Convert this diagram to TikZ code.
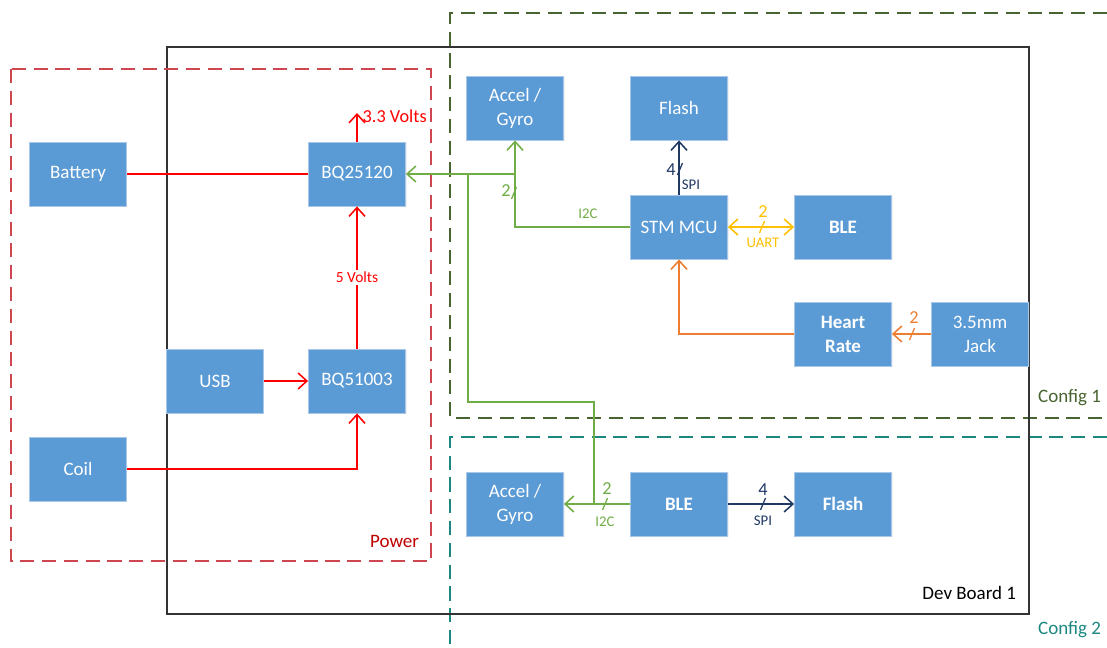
\documentclass[tikz,border=0pt]{standalone}
\usepackage{fontspec}
\setmainfont{Carlito}
\usetikzlibrary{arrows.meta,calc,positioning,shadows}

\definecolor{boxblue}{RGB}{91,155,213}
\definecolor{boxedge}{RGB}{170,198,232}
\definecolor{pwrred}{RGB}{255,0,0}
\definecolor{darkred}{RGB}{192,0,0}
\definecolor{frred}{RGB}{205,70,80}
\definecolor{busgreen}{RGB}{112,173,71}
\definecolor{spinavy}{RGB}{32,56,100}
\definecolor{uartyel}{RGB}{255,192,0}
\definecolor{hrorange}{RGB}{237,125,49}
\definecolor{cfgone}{RGB}{72,100,48}
\definecolor{cfgtwo}{RGB}{28,135,128}

\tikzset{
  blk/.style={rectangle,fill=boxblue,draw=boxedge,line width=0.6pt,text=white,
    minimum width=2.425cm,minimum height=1.6cm,align=center,
    font=\fontsize{13.5}{17}\selectfont,
    drop shadow={opacity=0.12,shadow xshift=0.7pt,shadow yshift=-0.9pt}},
  bblk/.style={blk,font=\fontsize{13.5}{17}\selectfont\bfseries},
  wire/.style={line width=1.1pt},
  pwr/.style={wire,pwrred},
  i2c/.style={wire,busgreen},
  spi/.style={wire,spinavy},
  uart/.style={wire,uartyel},
  hr/.style={wire,hrorange},
  lbl/.style={font=\fontsize{10.5}{12}\selectfont,inner sep=1pt},
  num/.style={font=\fontsize{13}{14}\selectfont,inner sep=1pt},
  frame/.style={line width=0.8pt,dash pattern=on 10pt off 5.5pt},
  slash/.pic={\draw[line width=0.9pt] (-2.5,6) -- (2.5,-6);}
}

\begin{document}
\begin{tikzpicture}[x=0.025cm,y=-0.025cm,>={Straight Barb[length=2.2mm,width=4mm]}]
\useasboundingbox (0,0) rectangle (1107,648);

\draw[frame,cfgone] (1107,13) -- (450,13) -- (450,418) -- (1107,418);
\draw[frame,cfgtwo] (1107,437) -- (450,437) -- (450,648);
\draw[line width=0.8pt,black!80] (167,47) rectangle (1029,614);
\draw[frame,frred] (11,69) rectangle (431,561);
\node[anchor=east,font=\fontsize{13.5}{15}\selectfont] (devlbl) at (1021,593) {Dev Board 1};
\node[anchor=east,font=\fontsize{13.5}{15}\selectfont,text=darkred] (pwrlbl) at (424,541) {Power};
\node[anchor=east,font=\fontsize{13.5}{15}\selectfont,text=cfgone] (cfg1lbl) at (1106,398) {Config 1};
\node[anchor=east,font=\fontsize{13.5}{15}\selectfont,text=cfgtwo] (cfg2lbl) at (1106,630) {Config 2};

\node[blk] (battery) at (78,174) {Battery};
\node[blk] (coil) at (78,469) {Coil};
\node[blk] (usb) at (215,381) {USB};
\node[blk] (bq51) at (357,381) {BQ51003};
\node[blk] (bq25) at (357,174) {BQ25120};
\node[blk] (accA) at (515,108) {Accel /\\Gyro};
\node[blk] (flashA) at (679,108) {Flash};
\node[blk] (mcu) at (679,227) {STM MCU};
\node[bblk] (bleA) at (843,227) {BLE};
\node[bblk] (heart) at (843,334) {Heart\\Rate};
\node[blk] (jack) at (980,334) {3.5mm\\Jack};
\node[blk] (accB) at (515,504) {Accel /\\Gyro};
\node[bblk] (bleB) at (679,504) {BLE};
\node[bblk] (flashB) at (843,504) {Flash};

\coordinate (v33) at (357,113);
\draw[pwr] (battery) -- (bq25);
\draw[pwr,->] (bq25.north) -- (v33);
\node[anchor=west,text=pwrred,font=\fontsize{13}{15}\selectfont,inner sep=1pt] (v33lbl) at (361,116) {3.3 Volts};
\draw[pwr,->] (bq51) -- node[fill=white,text=pwrred,font=\fontsize{11}{13}\selectfont,inner sep=1.5pt] {5 Volts} (bq25);
\draw[pwr,->] (usb) -- (bq51);
\draw[pwr,->] (coil) -| (bq51);

\coordinate (j1) at (accA |- bq25);
\coordinate (j2) at (468,174);
\coordinate (j3) at (594,402);
\draw[i2c,->] (mcu) -| (accA);
\draw[i2c,->] (j1) -- (bq25);
\draw[i2c] (j2) |- (j3) -- (j3 |- bleB);
\draw[i2c,->] (bleB) -- (accB);
\pic[busgreen] at (514,193) {slash};
\node[num,text=busgreen] at (506,191) {2};
\node[lbl,text=busgreen] at (588,214) {I2C};
\pic[busgreen] at (605,504) {slash};
\node[num,text=busgreen] at (607,489) {2};
\node[lbl,text=busgreen] at (605,522) {I2C};

\draw[spi,->] (mcu) -- (flashA);
\pic[spinavy] at (680,169) {slash};
\node[num,text=spinavy] at (671,170) {4};
\node[lbl,text=spinavy] at (691,185) {SPI};
\draw[spi,->] (bleB) -- (flashB);
\pic[spinavy] at (763,504) {slash};
\node[num,text=spinavy] at (763,490) {4};
\node[lbl,text=spinavy] at (763,521) {SPI};

\draw[uart,<->] (mcu) -- (bleA);
\pic[uartyel] at (762,227) {slash};
\node[num,text=uartyel] at (763,212) {2};
\node[lbl,text=uartyel] at (763,243) {UART};

\draw[hr,->] (heart) -| (mcu);
\draw[hr,->] (jack) -- (heart);
\pic[hrorange] at (912,334) {slash};
\node[num,text=hrorange] at (914,318) {2};
\end{tikzpicture}
\end{document}
